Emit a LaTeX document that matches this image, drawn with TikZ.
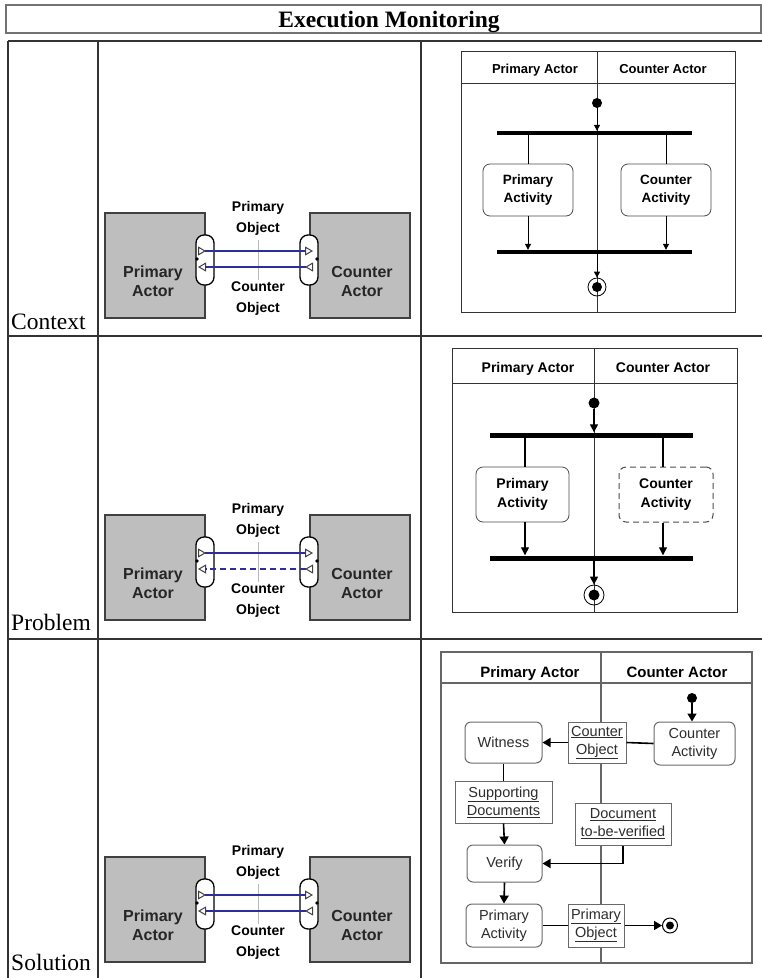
\documentclass[tikz,border=0pt]{standalone}
\usepackage{fontspec}
\setmainfont{Liberation Serif}
\newfontfamily\arialf{Liberation Sans}
\usetikzlibrary{arrows.meta,calc}
\definecolor{actorgray}{RGB}{190,190,190}
\definecolor{objblue}{RGB}{45,45,155}
\definecolor{sgray}{RGB}{105,105,105}
\definecolor{stext}{RGB}{45,45,45}
\newcommand\fs[2]{\fontsize{#1}{#2}\selectfont}
\newcommand\objdiagram[1]{%
  \node[actorbox] (pa) at (155,265.5) {};
  \node[actorbox] (ca) at (360,265.5) {};
  \node[actortext] (pat) at (153,281) {Primary\\Actor};
  \node[actortext] (cat) at (362,281) {Counter\\Actor};
  \node[port] (lp) at (205,260) {};
  \node[port] (rp) at (309,260) {};
  \draw[gray!55, line width=1pt] (258,240) -- (258,280);
  \draw[objline, pinarrows] ($(lp.center)+(-7,-9)$) -- ($(rp.center)+(4,-9)$);
  \draw[objline, pinarrows, #1] ($(rp.center)+(4,7)$) -- ($(lp.center)+(-7,7)$);
  \fill ($(lp.center)+(-8,-1)$) circle (1.8pt);
  \fill ($(rp.center)+(8,-1)$) circle (1.8pt);
  \node[objlabel] (po) at (258,218) {Primary\\Object};
  \node[objlabel] (co) at (258,298.5) {Counter\\Object};
}
\begin{document}
\begin{tikzpicture}[x=1pt,y=-1pt,
  tabrule/.style={draw=black!80, line width=1.2pt},
  titlerule/.style={draw=black!55, line width=1.5pt},
  rowlabel/.style={font=\fs{23.5}{27}, inner sep=0pt, anchor=base west},
  actorbox/.style={draw=black!75, fill=actorgray, line width=1.4pt, minimum width=100pt, minimum height=105pt, inner sep=0pt},
  actortext/.style={font=\arialf\bfseries\fs{16}{19}, align=center, text=black!85},
  port/.style={draw=black, fill=white, line width=1.3pt, rounded corners=8pt, minimum width=18pt, minimum height=50pt, inner sep=0pt},
  objline/.style={draw=objblue, line width=1.6pt},
  pinarrows/.style={{Triangle[open,reversed,length=8pt,width=9pt,color=black!75,line width=1pt]}-{Triangle[open,length=8pt,width=9pt,color=black!75,line width=1pt]}},
  objlabel/.style={font=\arialf\bfseries\fs{14}{21}, align=center},
  lanehdr/.style={anchor=base, inner sep=0pt},
  lanerule/.style={draw=black!80, line width=1pt},
  bar/.style={fill=black, inner sep=0pt},
  initdot/.style={circle, fill=black, inner sep=0pt},
  finalnode/.style={circle, draw=black, line width=0.8pt, inner sep=0pt},
  act/.style={draw=black!70, rounded corners=7pt, fill=white, align=center, inner sep=0pt, line width=0.8pt},
  cflow/.style={draw=black, line width=1pt, -{Triangle[length=6pt,width=6pt]}},
  pflow/.style={draw=black, line width=1.3pt, -{Triangle[length=8pt,width=8pt]}},
  sbox/.style={draw=sgray, line width=1pt, fill=white, inner sep=0pt, align=center, font=\arialf\fs{14.5}{18}, text=stext},
  sact/.style={sbox, rounded corners=6pt},
  sflow/.style={draw=black, line width=1.6pt, -{Triangle[length=8pt,width=9pt]}},
  sline/.style={draw=black, line width=1.6pt},
  srule/.style={draw=black!60, line width=1.1pt}
]
\useasboundingbox (0,0) rectangle (762,978);
\fill[white] (0,0) rectangle (762,978);

% ---------- table ----------
\draw[titlerule] (6,5) rectangle (761,33);
\node[font=\bfseries\fs{23.5}{26}, anchor=base, inner sep=0pt] (title) at (389,27) {Execution Monitoring};
\draw[tabrule] (8,41) -- (762,41);
\draw[tabrule] (8,41) -- (8,978);
\draw[tabrule] (98,41) -- (98,978);
\draw[tabrule] (421,41) -- (421,978);
\draw[tabrule] (8,336) -- (762,336);
\draw[tabrule] (8,639) -- (762,639);
\node[rowlabel] (lctx) at (11,329) {Context};
\node[rowlabel] (lprb) at (11,630) {Problem};
\node[rowlabel] (lsol) at (11,970) {Solution};

% ---------- left diagrams ----------
\begin{scope}[name prefix=c-]
  \objdiagram{}
\end{scope}
\begin{scope}[yshift=-302pt, name prefix=p-]
  \objdiagram{dash pattern=on 6pt off 4pt, line width=2.2pt}
\end{scope}
\begin{scope}[yshift=-644pt, name prefix=s-]
  \objdiagram{}
\end{scope}

% ---------- context activity diagram ----------
\draw[lanerule] (461,51) rectangle (735,312);
\draw[lanerule] (461,83) -- (735,83);
\draw[lanerule] (597,51) -- (597,312);
\node[lanehdr, font=\arialf\bfseries\fs{13}{16}] (ch1) at (535,73.5) {Primary Actor};
\node[lanehdr, font=\arialf\bfseries\fs{13}{16}] (ch2) at (663,73.5) {Counter Actor};
\node[initdot, minimum size=10pt] (cinit) at (597,103) {};
\node[bar, minimum width=195pt, minimum height=4pt] (cfork) at (594.5,133) {};
\node[act, minimum width=90pt, minimum height=52pt, font=\arialf\bfseries\fs{13.5}{18}] (cpact) at (528,190) {Primary\\Activity};
\node[act, minimum width=90pt, minimum height=52pt, font=\arialf\bfseries\fs{13.5}{18}] (ccact) at (666,190) {Counter\\Activity};
\node[bar, minimum width=195pt, minimum height=4pt] (cjoin) at (594.5,252) {};
\node[finalnode, minimum size=18pt] (cfin) at (597,287) {};
\fill (cfin.center) circle (5pt);
\draw[cflow] (cinit.south) -- (cinit.south |- cfork.north);
\draw[draw=black, line width=1pt] (cpact.north |- cfork.south) -- (cpact.north);
\draw[draw=black, line width=1pt] (ccact.north |- cfork.south) -- (ccact.north);
\draw[cflow] (cpact.south) -- (cpact.south |- cjoin.north);
\draw[cflow] (ccact.south) -- (ccact.south |- cjoin.north);
\draw[cflow] (cfin.north |- cjoin.south) -- (cfin.north);

% ---------- problem activity diagram ----------
\draw[lanerule] (452,348) rectangle (737,612);
\draw[lanerule] (452,383) -- (737,383);
\draw[lanerule] (594,348) -- (594,612);
\node[lanehdr, font=\arialf\bfseries\fs{14}{17}] (ph1) at (528,372) {Primary Actor};
\node[lanehdr, font=\arialf\bfseries\fs{14}{17}] (ph2) at (663,372) {Counter Actor};
\node[initdot, minimum size=11pt] (pinit) at (594,403) {};
\node[bar, minimum width=203pt, minimum height=5pt] (pfork) at (591.5,435) {};
\node[act, minimum width=93pt, minimum height=55pt, font=\arialf\bfseries\fs{14}{19}] (ppact) at (522.5,494.5) {Primary\\Activity};
\node[act, dash pattern=on 6pt off 4pt, line width=1pt, minimum width=94pt, minimum height=55pt, font=\arialf\bfseries\fs{14}{19}] (pcact) at (666,494.5) {Counter\\Activity};
\node[bar, minimum width=203pt, minimum height=5pt] (pjoin) at (591.5,558) {};
\node[finalnode, minimum size=20pt] (pfin) at (594,595) {};
\fill (pfin.center) circle (5.5pt);
\draw[pflow] (pinit.south) -- (pinit.south |- pfork.north);
\draw[draw=black, line width=1.3pt] ([xshift=2.5pt]ppact.north |- pfork.south) -- ([xshift=2.5pt]ppact.north);
\draw[draw=black, line width=1.3pt] ([xshift=-3pt]pcact.north |- pfork.south) -- ([xshift=-3pt]pcact.north);
\draw[pflow] ([xshift=2.5pt]ppact.south) -- ([xshift=2.5pt]ppact.south |- pjoin.north);
\draw[pflow] ([xshift=-3pt]pcact.south) -- ([xshift=-3pt]pcact.south |- pjoin.north);
\draw[pflow] (pfin.north |- pjoin.south) -- (pfin.north);

% ---------- solution activity diagram ----------
\draw[srule] (441,652) rectangle (752,963);
\draw[srule] (441,683) -- (752,683);
\draw[srule] (601,652) -- (601,963);
\node[lanehdr, font=\arialf\bfseries\fs{15}{18}] (sh1) at (530,677) {Primary Actor};
\node[lanehdr, font=\arialf\bfseries\fs{15}{18}] (sh2) at (677,677) {Counter Actor};
\node[initdot, minimum size=10pt] (sinit) at (692,698) {};
\node[sact, minimum width=81pt, minimum height=43pt] (scact) at (694.5,743.5) {Counter\\Activity};
\node[sbox, minimum width=58pt, minimum height=41pt] (scobj) at (597,742.5) {\underline{Counter}\\\underline{Object}};
\node[sact, minimum width=77pt, minimum height=41pt] (swit) at (503.5,742.5) {Witness};
\node[sbox, minimum width=97pt, minimum height=42pt] (ssd) at (503.5,802) {\underline{Supporting}\\\underline{Documents}};
\node[sact, minimum width=75pt, minimum height=37pt] (sver) at (504.5,863.5) {Verify};
\node[sbox, minimum width=96pt, minimum height=42pt] (sdtbv) at (623,824) {\underline{Document}\\\underline{to-be-verified}};
\node[sact, minimum width=76pt, minimum height=43pt] (spact) at (504,925.5) {Primary\\Activity};
\node[sbox, minimum width=56pt, minimum height=43pt] (spobj) at (596,925.5) {\underline{Primary}\\\underline{Object}};
\node[finalnode, line width=1pt, minimum size=15pt] (sfin) at (670,925.5) {};
\fill (sfin.center) circle (4pt);
\draw[sflow] (sinit.south) -- (sinit.south |- scact.north);
\draw[sline] (scact.west) -- (scobj.east);
\draw[sflow] (scobj.west) -- (swit.east);
\draw[sline] (swit.south) -- (ssd.north);
\draw[sflow] (ssd.south) -- (sver.north);
\draw[sflow] (sdtbv.south) |- (sver.east);
\draw[sflow] (sver.south) -- (spact.north);
\draw[sline] (spact.east) -- (spobj.west);
\draw[sflow] (spobj.east) -- (sfin.west);
\end{tikzpicture}
\end{document}
